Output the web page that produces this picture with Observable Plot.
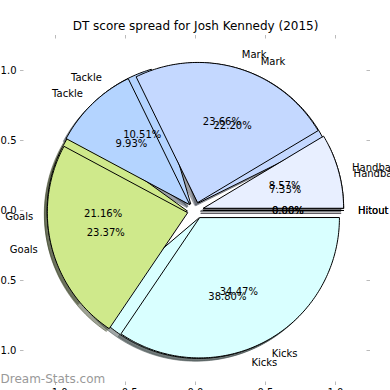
<!DOCTYPE html>
<html><head><meta charset="utf-8">
<script src="https://cdn.jsdelivr.net/npm/d3@7"></script>
<script src="https://cdn.jsdelivr.net/npm/@observablehq/plot@0.6"></script>
<style>body{margin:0;background:#fff}</style>
</head><body><div id="chart"></div>
<script>
const title = "DT score spread for Josh Kennedy (2015)";
const categories = ["Hitout", "Handball", "Mark", "Tackle", "Goals", "Kicks"];
const seriesA = [0, 7.33, 22.20, 10.51, 21.16, 38.80];
const seriesB = [0, 8.57, 23.66, 9.93, 23.37, 34.47];
const sliceColors = ["#f4e6ff", "#e8efff", "#c4d8ff", "#b4d4ff", "#cfe98b", "#d9ffff"];
const tickValues = [-1, -0.5, 0, 0.5, 1];
const watermark = "Dream-Stats.com";

const explode = 0.06, labelDist = 1.1, pctDist = 0.6, shadowOff = -0.02;

function buildPie(values, name) {
  const total = d3.sum(values);
  let acc = 0;
  return values.map((v, i) => {
    const t1 = acc / total * 2 * Math.PI;
    acc += v;
    const t2 = acc / total * 2 * Math.PI;
    const tm = (t1 + t2) / 2;
    const cx = explode * Math.cos(tm), cy = explode * Math.sin(tm);
    const pts = [[cx, cy]];
    const n = Math.max(1, Math.ceil((t2 - t1) / (Math.PI / 180)));
    for (let k = 0; k <= n; k++) {
      const t = t1 + (t2 - t1) * k / n;
      pts.push([cx + Math.cos(t), cy + Math.sin(t)]);
    }
    const lx = cx + labelDist * Math.cos(tm), ly = cy + labelDist * Math.sin(tm);
    const c = d3.rgb(sliceColors[i]);
    return {
      key: name + i, cat: categories[i], pct: (v / total * 100).toFixed(2) + "%",
      pts, color: sliceColors[i],
      shade: d3.rgb(c.r * 0.3, c.g * 0.3, c.b * 0.3).formatHex(),
      lx, ly, px: cx + pctDist * Math.cos(tm), py: cy + pctDist * Math.sin(tm)
    };
  });
}

const pieA = buildPie(seriesA, "a");
const pieB = buildPie(seriesB, "b");

function rows(pie, dx = 0, dy = 0) {
  return pie.flatMap(w => w.pts.map(([x, y]) => ({x: x + dx, y: y + dy, key: w.key, fill: w.color, shade: w.shade})));
}

function wedgeMarks(pie) {
  return [Plot.line(rows(pie), {x: "x", y: "y", z: "key", fill: "fill", stroke: "black", strokeWidth: 1, curve: "linear-closed"})];
}
function shadowMarks(pie) {
  return [Plot.line(rows(pie, shadowOff, shadowOff), {x: "x", y: "y", z: "key", fill: "shade", stroke: "shade", fillOpacity: 0.5, strokeOpacity: 0.5, strokeWidth: 1, curve: "linear-closed"})];
}
function textMarks(pie) {
  return [
    Plot.text(pie.filter(w => w.lx > 0), {x: "lx", y: "ly", text: "cat", textAnchor: "start", fill: "black"}),
    Plot.text(pie.filter(w => w.lx <= 0), {x: "lx", y: "ly", text: "cat", textAnchor: "end", fill: "black"}),
    Plot.text(pie, {x: "px", y: "py", text: "pct", textAnchor: "middle", fill: "black"})
  ];
}

const tickColor = "#bbbbbb";
const chart = Plot.plot({
  width: 390, height: 390,
  marginLeft: 20, marginRight: 20, marginTop: 35, marginBottom: 5,
  x: {domain: [-1.25, 1.25]},
  y: {domain: [-1.25, 1.25]},
  color: {type: "identity"},
  style: {fontFamily: "'DejaVu Sans', sans-serif", fontSize: "10px", background: "white", overflow: "visible", color: "black"},
  marks: [
    ...shadowMarks(pieA), ...shadowMarks(pieB),
    ...wedgeMarks(pieA), ...wedgeMarks(pieB),
    ...textMarks(pieA), ...textMarks(pieB),
    Plot.ruleY(tickValues, {y: d => d, x1: -1.25, x2: -1.225, stroke: tickColor}),
    Plot.ruleY(tickValues, {y: d => d, x1: 1.225, x2: 1.25, stroke: tickColor}),
    Plot.ruleX(tickValues, {x: d => d, y1: 1.225, y2: 1.25, stroke: tickColor}),
    Plot.ruleX(tickValues, {x: d => d, y1: -1.25, y2: -1.225, stroke: tickColor}),
    Plot.axisY(tickValues, {anchor: "left", tickSize: 0, tickPadding: 4, tickFormat: d3.format(".1f"), label: null, fontSize: 10}),
    Plot.axisX(tickValues, {anchor: "bottom", tickSize: 0, tickPadding: 3, tickFormat: d3.format(".1f"), label: null, fontSize: 10}),
    Plot.text([title], {text: d => d, frameAnchor: "top", dy: -9, lineAnchor: "middle", fontSize: 12, fill: "black"}),
    Plot.text([watermark], {text: d => d, frameAnchor: "bottom-left", dx: -20, dy: -6, textAnchor: "start", lineAnchor: "middle", fontSize: 12, fill: "#999999"})
  ]
});
document.getElementById("chart").append(chart);
</script>
</body></html>
